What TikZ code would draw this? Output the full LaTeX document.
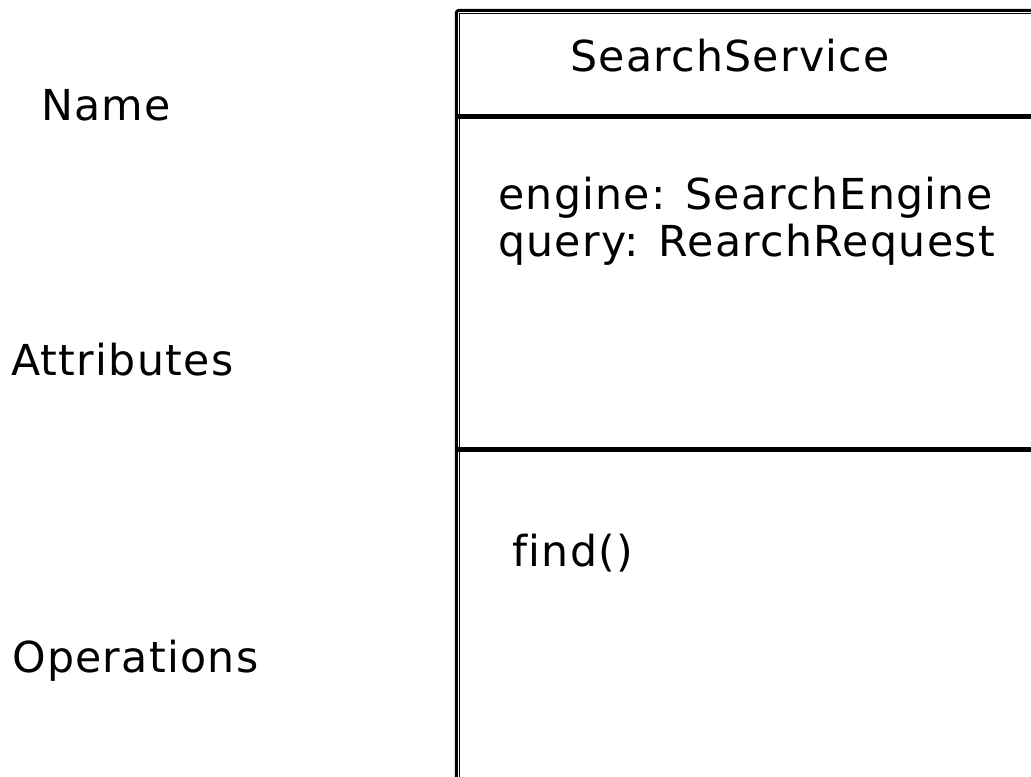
\documentclass[tikz,border=0pt]{standalone}
\usepackage{fontspec}
\setmainfont[LetterSpace=3,Ligatures={NoCommon}]{DejaVu Sans}
\begin{document}
\begin{tikzpicture}[x=0.75pt,y=-0.75pt,
  lbl/.style={anchor=base west,inner sep=0pt,font=\fontsize{32}{38}\selectfont},
  outer/.style={line width=3*0.75pt,draw=black},
  inner/.style={line width=1.1*0.75pt,draw=black},
  divider/.style={line width=5.4*0.75pt,draw=black}]
\useasboundingbox (0,0) rectangle (1031,777);
\clip (0,0) rectangle (1031,777);
% class box
\draw[outer,rounded corners=2pt] (456.3,850) -- (456.3,10.3) -- (1100,10.3);
\draw[inner] (459.5,850) -- (459.5,13.3) -- (1100,13.3);
\draw[divider] (455,116.8) -- (1100,116.8);
\draw[divider] (455,449.5) -- (1100,449.5);
% texts
\node[lbl] (title) at (570,72) {SearchService};
\node[lbl] (attr1) at (498,210) {engine: SearchEngine};
\node[lbl] (attr2) at (498,257) {query: RearchRequest};
\node[lbl] (op1) at (512,566) {find()};
\node[lbl] (name) at (41,121) {Name};
\node[lbl] (attrs) at (11,375) {Attributes};
\node[lbl] (ops) at (12,672) {Operations};
\end{tikzpicture}
\end{document}
